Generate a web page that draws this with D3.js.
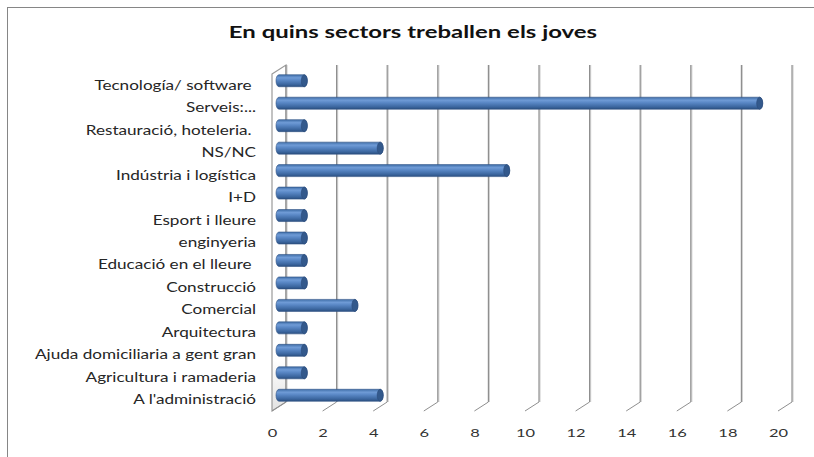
<!DOCTYPE html>
<html>
<head>
<meta charset="utf-8">
<script src="https://cdn.jsdelivr.net/npm/d3@7"></script>
<style>
  body { margin: 0; background: #fff; }
  svg text { font-family: Lato, "Open Sans", sans-serif; white-space: pre; }
</style>
</head>
<body>
<div id="chart"></div>
<script>
// categories, bottom to top (as in the sheet)
var categories = [
  "A l'administració",
  "Agricultura i ramaderia",
  "Ajuda domiciliaria a gent gran",
  "Arquitectura",
  "Comercial",
  "Construcció",
  "Educació en el lleure ",
  "enginyeria",
  "Esport i lleure",
  "I+D",
  "Indústria i logística",
  "NS/NC",
  "Restauració, hoteleria. ",
  "Serveis:...",
  "Tecnología/ software "
];
var counts = [4, 1, 1, 1, 3, 1, 1, 1, 1, 1, 9, 4, 1, 19, 1];
var xTicks = [0, 2, 4, 6, 8, 10, 12, 14, 16, 18, 20];
var title = "En quins sectors treballen els joves";

var width = 814, height = 457;
// depth offset of the 3d box (front -> back)
var dx = 14, dy = -9;
var stretch = 1.37; // the original text is drawn wide

var svg = d3.select("#chart").append("svg")
  .attr("width", width)
  .attr("height", height);

var defs = svg.append("defs");
var grad = defs.append("linearGradient")
  .attr("id", "cyl").attr("x1", 0).attr("y1", 0).attr("x2", 0).attr("y2", 1);
grad.append("stop").attr("offset", "0%").attr("stop-color", "#3f6ea8");
grad.append("stop").attr("offset", "25%").attr("stop-color", "#6f9bd6");
grad.append("stop").attr("offset", "45%").attr("stop-color", "#5a88c6");
grad.append("stop").attr("offset", "80%").attr("stop-color", "#3c67a0");
grad.append("stop").attr("offset", "100%").attr("stop-color", "#2b4f80");

var wallGrad = defs.append("linearGradient")
  .attr("id", "wall").attr("x1", 0).attr("y1", 0).attr("x2", 0).attr("y2", 1);
wallGrad.append("stop").attr("offset", "0%").attr("stop-color", "#ffffff");
wallGrad.append("stop").attr("offset", "85%").attr("stop-color", "#ffffff");
wallGrad.append("stop").attr("offset", "100%").attr("stop-color", "#e2e2e2");

// chart area border
svg.append("rect")
  .attr("x", 7.5).attr("y", 7.5)
  .attr("width", 900).attr("height", 600)
  .attr("fill", "none")
  .attr("stroke", "#868686");

// title
svg.append("text")
  .attr("text-anchor", "middle")
  .attr("transform", "translate(413,38) scale(1.45,1)")
  .style("font-weight", "bold")
  .style("font-size", "16.5px")
  .attr("fill", "#111")
  .text(title);

// scales (front plane)
var x = d3.scaleLinear().domain([0, 20]).range([272, 778]);
var yBack = d3.scaleBand().domain(categories).range([402, 65]);
var yTop = 65 - dy, yBottom = 402 - dy; // front plane top/bottom

// left wall
svg.append("path")
  .attr("d", "M" + x(0) + "," + yTop + "L" + (x(0) + dx) + "," + (yTop + dy) +
             "L" + (x(0) + dx) + "," + (yBottom + dy) + "L" + x(0) + "," + yBottom + "Z")
  .attr("fill", "url(#wall)")
  .attr("stroke", "#9a9a9a")
  .attr("stroke-width", 1.2);

// back wall grid lines + floor lines
var grid = svg.append("g");
xTicks.forEach(function(t) {
  var xb = x(t) + dx;
  grid.append("line")
    .attr("x1", xb + 1).attr("x2", xb + 1)
    .attr("y1", yTop + dy).attr("y2", yBottom + dy)
    .attr("stroke", "#d2d2d2").attr("stroke-width", 1.2);
  grid.append("line")
    .attr("x1", xb).attr("x2", xb)
    .attr("y1", yTop + dy).attr("y2", yBottom + dy)
    .attr("stroke", "#8f8f8f").attr("stroke-width", 1.2);
  grid.append("line")
    .attr("x1", xb).attr("y1", yBottom + dy)
    .attr("x2", x(t)).attr("y2", yBottom)
    .attr("stroke", "#8f8f8f").attr("stroke-width", 1);
});

// bars as cylinders at mid depth
var r = 6, rx = 3;
var bars = svg.append("g");
categories.forEach(function(c, i) {
  var cy = yBack(c) + yBack.bandwidth() / 2 - dy / 2;
  var x0 = x(0) + dx / 2, x1 = x(counts[i]) + dx / 2;
  bars.append("path")
    .attr("d", "M" + x0 + "," + (cy - r) + "L" + x1 + "," + (cy - r) +
               "A" + rx + "," + r + " 0 0 1 " + x1 + "," + (cy + r) +
               "L" + x0 + "," + (cy + r) +
               "A" + rx + "," + r + " 0 0 1 " + x0 + "," + (cy - r) + "Z")
    .attr("fill", "url(#cyl)")
    .attr("stroke", "#2f5384").attr("stroke-width", 0.6);
  bars.append("ellipse")
    .attr("cx", x1).attr("cy", cy)
    .attr("rx", rx).attr("ry", r)
    .attr("fill", "#33598c")
    .attr("stroke", "#2a4a78").attr("stroke-width", 0.6);
});

// category labels
var yLab = d3.scaleBand().domain(categories).range([402 - dy / 2 + 5, 65 - dy / 2 + 5]);
svg.append("g")
  .attr("transform", "translate(256,0)")
  .call(d3.axisLeft(yLab).tickSize(0).tickPadding(0))
  .call(function(g) { g.select(".domain").remove(); })
  .selectAll("text")
  .attr("transform", "scale(" + stretch + ",1)")
  .style("font-size", "12.5px")
  .attr("fill", "#262626");

// value axis labels
svg.append("g")
  .attr("transform", "translate(0," + 428 + ")")
  .call(d3.axisBottom(x).tickValues(xTicks).tickSize(0).tickPadding(0))
  .call(function(g) { g.select(".domain").remove(); })
  .selectAll("text")
  .attr("transform", "scale(" + stretch + ",1)")
  .style("font-size", "12px")
  .attr("fill", "#333");
</script>
</body>
</html>
